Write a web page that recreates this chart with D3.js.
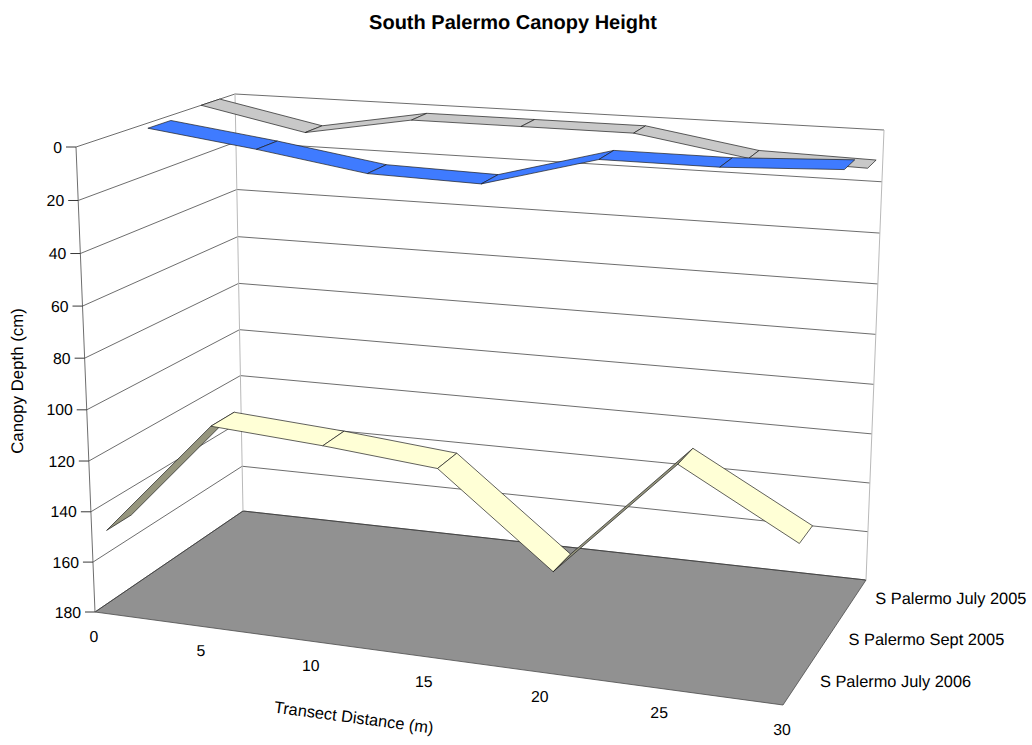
<!DOCTYPE html>
<html>
<head>
<meta charset="utf-8">
<style>
  html, body { margin: 0; padding: 0; background: #fff; }
  svg { display: block; }
  text { font-family: "Liberation Sans", Arial, sans-serif; fill: #000; text-rendering: geometricPrecision; }
</style>
<script src="https://cdn.jsdelivr.net/npm/d3@7"></script>
</head>
<body>
<svg id="chart" width="1032" height="745"></svg>
<script>
// Chart data
const distances = [0, 5, 10, 15, 20, 25, 30];
const depthTicks = [0, 20, 40, 60, 80, 100, 120, 140, 160, 180];
const seriesNames = ["S Palermo July 2006", "S Palermo Sept 2005", "S Palermo July 2005"];
const july2006 = [151, 105, 108, 112, 146, 101, 125];
const sept2005 = [2, 7.5, 14, 15, 3, 3, 1];
const july2005 = [0, 8.5, 1, 1, 1, 8, 9];
const seriesValues = [july2006, sept2005, july2005];
const ribbonFill = ["#ffffd6", "#3f7bff", "#c8c8c8"];
const ribbonShade = ["#96967e", "#2f5cbf", "#969696"];
const ribbonDepth = [0.155, 0.145, 0.125];

// Box corners on screen: f/b = front/back, l/r = left/right, t/b = top/bottom
const corners = {
  flt: [76, 147],  flb: [95, 612],
  frt: [812, 197], frb: [783, 705],
  blt: [235, 94],  blb: [243, 511],
  brt: [884, 130], brb: [866, 580]
};

// Perspective foreshortening along one box edge
const foreshorten = a => t => t * a / (1 + t * (a - 1));

const xUnit = d3.scaleLinear().domain([0, 30]).range([0, 1]);
const yUnit = d3.scaleLinear().domain([0, 180]).range([0, 1]);
const zUnit = d3.scaleBand().domain(seriesNames).range([0, 1]);
const warpX = foreshorten(0.92), warpY = foreshorten(1.04), warpZ = foreshorten(1.1);

const mix = (p, q, t) => [p[0] + (q[0] - p[0]) * t, p[1] + (q[1] - p[1]) * t];

// Map (distance, depth, unit z) into the box
function project(x, y, z) {
  const u = warpX(xUnit(x)), v = warpY(yUnit(y)), w = warpZ(z);
  const c = corners;
  const front = mix(mix(c.flt, c.frt, u), mix(c.flb, c.frb, u), v);
  const back = mix(mix(c.blt, c.brt, u), mix(c.blb, c.brb, u), v);
  return mix(front, back, w);
}

const svg = d3.select("#chart");
const poly = d3.line().curve(d3.curveLinearClosed);
const seg = d3.line();

// Floor
const xMax = 30, yMax = 180;
svg.append("path")
  .attr("d", poly([project(0, yMax, 0), project(xMax, yMax, 0), project(xMax, yMax, 1), project(0, yMax, 1)]))
  .attr("fill", "#919191").attr("stroke", "#4a4a4a").attr("stroke-width", 0.8);

// Gridlines on the side and back walls
const grid = svg.append("g").attr("fill", "none").attr("stroke", "#3c3c3c").attr("stroke-width", 0.75);
depthTicks.forEach(v => {
  grid.append("path").attr("d", seg([project(0, v, 0), project(0, v, 1), project(xMax, v, 1)]));
});

// Wall edges
const edges = svg.append("g").attr("fill", "none").attr("stroke", "#b9b9b9").attr("stroke-width", 1);
edges.append("path").attr("d", seg([project(0, 0, 1), project(0, yMax, 1)]));
edges.append("path").attr("d", seg([project(xMax, 0, 1), project(xMax, yMax, 1)]));
svg.append("path").attr("d", seg([project(0, 0, 0), project(0, yMax, 0)]))
  .attr("fill", "none").attr("stroke", "#6e6e6e").attr("stroke-width", 1);

// Ribbons, back to front
const steepRise = 30; // a rise this large per step exposes the ribbon's underside
[2, 1, 0].forEach(si => {
  const name = seriesNames[si];
  const zc = zUnit(name) + zUnit.bandwidth() / 2;
  const half = ribbonDepth[si] / 2;
  const vals = seriesValues[si];
  const g = svg.append("g");
  d3.pairs(distances.map((d, i) => [d, vals[i]])).forEach(([a, b]) => {
    const pts = [
      project(a[0], a[1], zc - half),
      project(b[0], b[1], zc - half),
      project(b[0], b[1], zc + half),
      project(a[0], a[1], zc + half)
    ];
    const under = a[1] - b[1] > steepRise;
    g.append("path").attr("d", poly(pts))
      .attr("fill", under ? ribbonShade[si] : ribbonFill[si])
      .attr("stroke", "#1c1c1c").attr("stroke-width", 0.7).attr("stroke-linejoin", "round");
  });
});

// Depth axis
const yAxis = svg.append("g");
depthTicks.forEach(v => {
  const p = project(0, v, 0);
  yAxis.append("line").attr("x1", p[0] - 10).attr("x2", p[0]).attr("y1", p[1]).attr("y2", p[1])
    .attr("stroke", "#222").attr("stroke-width", 0.9);
  yAxis.append("text").attr("x", p[0] - 14).attr("y", p[1] + 5.5)
    .attr("text-anchor", "end").attr("font-size", 15.8).text(v);
});

// Distance axis labels
const xAxis = svg.append("g");
distances.forEach(d => {
  const p = project(d, yMax, 0);
  xAxis.append("text").attr("x", p[0] - 1).attr("y", p[1] + 30)
    .attr("text-anchor", "middle").attr("font-size", 15.8).text(d);
});

// Series labels along the floor's right edge
const zAxis = svg.append("g");
seriesNames.forEach(n => {
  const p = project(xMax, yMax, zUnit(n) + zUnit.bandwidth() / 2);
  zAxis.append("text").attr("x", p[0] + 22).attr("y", p[1] + 5)
    .attr("font-size", 16.4).text(n);
});

// Titles
svg.append("text").attr("x", 513).attr("y", 28.5).attr("text-anchor", "middle")
  .attr("font-size", 20).attr("font-weight", "bold").text("South Palermo Canopy Height");
svg.append("text").attr("transform", "translate(23,381) rotate(-90)").attr("text-anchor", "middle")
  .attr("font-size", 16.8).text("Canopy Depth (cm)");
svg.append("text").attr("transform", "translate(353,723) rotate(7.5)").attr("text-anchor", "middle")
  .attr("font-size", 16.4).text("Transect Distance (m)");
</script>
</body>
</html>
